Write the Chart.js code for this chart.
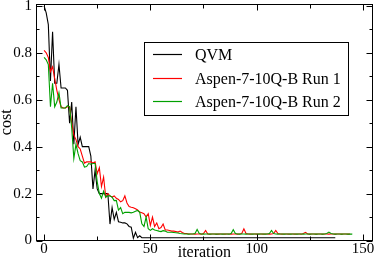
<!DOCTYPE html>
<html>
<head>
<meta charset="utf-8">
<script src="https://cdn.jsdelivr.net/npm/chart.js@4.4.0/dist/chart.umd.min.js"></script>
<style>
  html, body { margin: 0; padding: 0; background: #fff; }
  #wrap { width: 374px; height: 260px; }
</style>
</head>
<body>
<div id="wrap"><canvas id="costChart"></canvas></div>
<script>
// series names (legend order)
const seriesNames = ['QVM', 'Aspen-7-10Q-B Run 1', 'Aspen-7-10Q-B Run 2'];

// cost per iteration (index = iteration)
const qvmCost = [
  1.0, 0.97, 0.92, 0.68, 0.89, 0.67, 0.67, 0.75, 0.65, 0.65,
  0.65, 0.64, 0.50, 0.59, 0.41, 0.57, 0.41, 0.44, 0.40, 0.40,
  0.40, 0.40, 0.36, 0.22, 0.30, 0.22, 0.20, 0.20, 0.20, 0.20,
  0.20, 0.07, 0.14, 0.09, 0.12, 0.08, 0.078, 0.075, 0.075, 0.071,
  0.06, 0.057, 0.01, 0.035, 0.012, 0.02, 0.012, 0.012, 0.012, 0.012,
  0.012, 0.012, 0.012, 0.012, 0.012, 0.012, 0.012, 0.012, 0.012, 0.012,
  0.012, 0.012, 0.012, 0.012, 0.012, 0.012, 0.012, 0.012, 0.012, 0.012,
  0.012, 0.012, 0.012, 0.012, 0.012, 0.012, 0.012, 0.012, 0.012, 0.012,
  0.012, 0.012, 0.012, 0.012, 0.012, 0.012, 0.012, 0.012, 0.012, 0.012,
  0.012, 0.012, 0.012, 0.012, 0.012, 0.012, 0.012, 0.012, 0.012, 0.012,
  0.012, 0.012, 0.012, 0.012, 0.012, 0.012, 0.012, 0.012, 0.012, 0.012,
  0.012, 0.012, 0.012, 0.012, 0.012, 0.012, 0.012, 0.012, 0.012, 0.012,
  0.012, 0.012, 0.012, 0.012, 0.012, 0.012, 0.012, 0.012, 0.012, 0.012,
  0.012, 0.012, 0.012, 0.012, 0.012, 0.012, 0.012, 0.012
];

const run1Cost = [
  0.81, 0.80, 0.78, 0.72, 0.74, 0.69, 0.64, 0.60, 0.57, 0.565,
  0.565, 0.57, 0.57, 0.50, 0.45, 0.43, 0.40, 0.39, 0.36, 0.33,
  0.335, 0.335, 0.335, 0.33, 0.335, 0.285, 0.31, 0.23, 0.27, 0.185,
  0.20, 0.19, 0.185, 0.19, 0.18, 0.175, 0.165, 0.17, 0.19, 0.16,
  0.145, 0.142, 0.14, 0.135, 0.13, 0.121, 0.118, 0.114, 0.10, 0.114,
  0.064, 0.10, 0.06, 0.075, 0.05, 0.055, 0.07, 0.045, 0.045, 0.043,
  0.04, 0.04, 0.038, 0.036, 0.04, 0.034, 0.03, 0.03, 0.028, 0.028,
  0.028, 0.027, 0.028, 0.028, 0.027, 0.03, 0.043, 0.028, 0.027, 0.028,
  0.028, 0.027, 0.027, 0.028, 0.028, 0.027, 0.028, 0.028, 0.027, 0.028,
  0.028, 0.027, 0.028, 0.03, 0.05, 0.03, 0.028, 0.027, 0.028, 0.028,
  0.027, 0.028, 0.028, 0.027, 0.028, 0.028, 0.027, 0.028, 0.03, 0.043,
  0.03, 0.028, 0.027, 0.028, 0.028, 0.027, 0.028, 0.028, 0.027, 0.028,
  0.028, 0.027, 0.03, 0.035, 0.028, 0.027, 0.028, 0.028, 0.027, 0.028,
  0.028, 0.027, 0.028, 0.028, 0.027, 0.028, 0.028, 0.027, 0.028, 0.028,
  0.027, 0.028, 0.028, 0.027, 0.028
];

const run2Cost = [
  0.78, 0.77, 0.75, 0.57, 0.67, 0.57, 0.59, 0.63, 0.565, 0.565,
  0.565, 0.575, 0.57, 0.48, 0.35, 0.41, 0.37, 0.34, 0.335, 0.313,
  0.315, 0.328, 0.325, 0.328, 0.328, 0.25, 0.20, 0.18, 0.21, 0.185,
  0.19, 0.19, 0.185, 0.17, 0.171, 0.13, 0.14, 0.114, 0.12, 0.12,
  0.12, 0.118, 0.12, 0.125, 0.128, 0.12, 0.071, 0.06, 0.10, 0.05,
  0.043, 0.05, 0.045, 0.043, 0.04, 0.038, 0.042, 0.04, 0.035, 0.035,
  0.035, 0.034, 0.033, 0.032, 0.03, 0.029, 0.028, 0.028, 0.027, 0.028,
  0.028, 0.03, 0.047, 0.03, 0.028, 0.027, 0.028, 0.028, 0.027, 0.028,
  0.028, 0.027, 0.028, 0.028, 0.027, 0.028, 0.028, 0.027, 0.03, 0.046,
  0.03, 0.028, 0.027, 0.028, 0.028, 0.027, 0.028, 0.028, 0.027, 0.028,
  0.028, 0.027, 0.028, 0.028, 0.027, 0.028, 0.03, 0.043, 0.03, 0.028,
  0.027, 0.028, 0.028, 0.027, 0.028, 0.028, 0.027, 0.028, 0.028, 0.027,
  0.028, 0.028, 0.027, 0.028, 0.028, 0.027, 0.028, 0.028, 0.027, 0.028,
  0.028, 0.027, 0.028, 0.03, 0.036, 0.03, 0.028, 0.027, 0.028, 0.028,
  0.027, 0.028, 0.028, 0.027, 0.028, 0.027
];

const xTitle = 'iteration';
const yTitle = 'cost';

const seriesColors = ['#000000', '#ff0000', '#00a000'];
const serif = '"Liberation Serif", "DejaVu Serif", serif';

// turn a list of costs into {x: iteration, y: cost}
function toPoints(values) {
  return values.map((v, i) => ({ x: i, y: v }));
}

// frame, inward ticks, axis titles and legend box
const framePlugin = {
  id: 'frame',
  afterDraw(chart) {
    const { ctx, chartArea: a, scales } = chart;
    const L = Math.floor(a.left) + 0.5, R = Math.floor(a.right) + 0.5;
    const T = Math.floor(a.top) + 0.5, B = Math.floor(a.bottom) + 0.5;
    ctx.save();
    ctx.strokeStyle = '#000';
    ctx.lineWidth = 1;
    ctx.strokeRect(L, T, R - L, B - T);

    ctx.beginPath();
    scales.y.ticks.forEach(t => {
      const py = Math.round(scales.y.getPixelForValue(t.value)) + 0.5;
      const len = t.label ? 6 : 3;
      ctx.moveTo(L, py); ctx.lineTo(L + len, py);
      ctx.moveTo(R, py); ctx.lineTo(R - len, py);
    });
    scales.x.ticks.forEach(t => {
      const px = Math.round(scales.x.getPixelForValue(t.value)) + 0.5;
      const len = t.label ? 6 : 4;
      ctx.moveTo(px, B); ctx.lineTo(px, B - len);
      ctx.moveTo(px, T); ctx.lineTo(px, T + len);
    });
    ctx.stroke();

    // axis titles
    ctx.fillStyle = '#000';
    ctx.font = '16px ' + serif;
    ctx.textAlign = 'center';
    ctx.textBaseline = 'alphabetic';
    ctx.fillText(xTitle, (a.left + a.right) / 2, 257);
    ctx.save();
    ctx.translate(11, (a.top + a.bottom) / 2);
    ctx.rotate(-Math.PI / 2);
    ctx.fillText(yTitle, 0, 0);
    ctx.restore();

    // legend
    const bx = 144.5, by = 42.5, bw = 204, bh = 73;
    ctx.fillStyle = '#fff';
    ctx.fillRect(bx, by, bw, bh);
    ctx.strokeStyle = '#000';
    ctx.strokeRect(bx, by, bw, bh);
    const rows = [54.5, 78.5, 101.5];
    ctx.textAlign = 'left';
    ctx.textBaseline = 'middle';
    chart.data.datasets.forEach((ds, i) => {
      ctx.strokeStyle = ds.borderColor;
      ctx.lineWidth = 1.2;
      ctx.beginPath();
      ctx.moveTo(153, rows[i]);
      ctx.lineTo(182, rows[i]);
      ctx.stroke();
      ctx.fillStyle = '#000';
      ctx.fillText(ds.label, 195, rows[i] + 1);
    });
    ctx.restore();
  }
};

const ctx = document.getElementById('costChart').getContext('2d');
new Chart(ctx, {
  type: 'line',
  data: {
    datasets: [
      { label: seriesNames[0], data: toPoints(qvmCost), borderColor: seriesColors[0], order: 2 },
      { label: seriesNames[1], data: toPoints(run1Cost), borderColor: seriesColors[1], order: 1 },
      { label: seriesNames[2], data: toPoints(run2Cost), borderColor: seriesColors[2], order: 0 }
    ]
  },
  options: {
    responsive: true,
    maintainAspectRatio: false,
    animation: false,
    parsing: false,
    layout: { padding: { top: 4, right: 1.3, left: 0, bottom: 0 } },
    elements: {
      line: { borderWidth: 1.1, tension: 0, fill: false },
      point: { radius: 0 }
    },
    plugins: {
      legend: { display: false },
      tooltip: { enabled: false }
    },
    scales: {
      x: {
        type: 'linear',
        min: -3.8,
        max: 154.6,
        grid: { display: false, drawTicks: false },
        border: { display: false },
        ticks: {
          stepSize: 25,
          includeBounds: false,
          autoSkip: false,
          maxRotation: 0,
          padding: 0,
          color: '#000',
          font: { family: serif, size: 15 },
          callback: v => (v % 50 === 0 ? String(v) : '')
        },
        afterFit: s => { s.height = 19.5; s.paddingLeft = 0; s.paddingRight = 0; }
      },
      y: {
        min: 0,
        max: 1.008,
        grid: { display: false, drawTicks: false },
        border: { display: false },
        ticks: {
          stepSize: 0.1,
          includeBounds: false,
          autoSkip: false,
          padding: 4,
          color: '#000',
          font: { family: serif, size: 15 },
          callback: v => {
            const k = Math.round(v * 10);
            return k % 2 === 0 ? String(k / 10) : '';
          }
        },
        afterFit: s => { s.width = 36; s.paddingTop = 0; s.paddingBottom = 0; }
      }
    }
  },
  plugins: [framePlugin]
});
</script>
</body>
</html>
